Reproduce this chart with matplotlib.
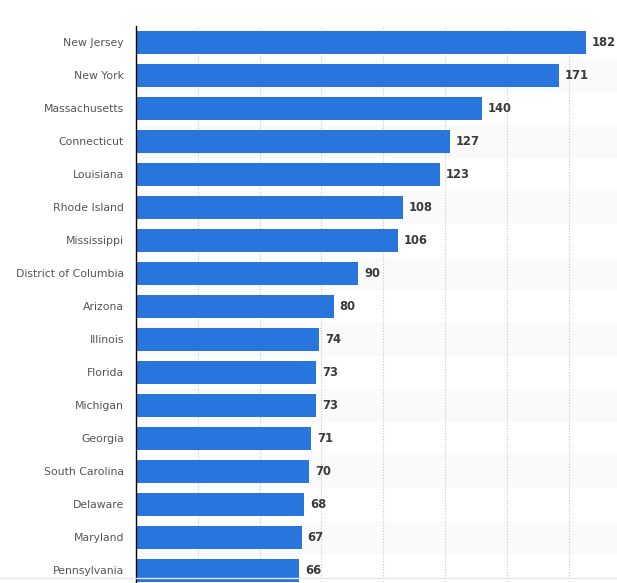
import matplotlib.pyplot as plt
from matplotlib.lines import Line2D

states = ['New Jersey', 'New York', 'Massachusetts', 'Connecticut', 'Louisiana',
          'Rhode Island', 'Mississippi', 'District of Columbia', 'Arizona', 'Illinois',
          'Florida', 'Michigan', 'Georgia', 'South Carolina', 'Delaware',
          'Maryland', 'Pennsylvania']
values = [182, 171, 140, 127, 123, 108, 106, 90, 80, 74, 73, 73, 71, 70, 68, 67, 66]

bar_color = '#2876dd'

fig = plt.figure(figsize=(6.17, 5.83), dpi=100)
# axes runs a little past the bottom edge, like the cropped screenshot
ax = fig.add_axes([136/617, 1 - 587/583, 481/617, 561/583])

n = len(states)
ypos = list(range(n))

# alternating row stripes
for i in ypos:
    if i % 2 == 1:
        ax.axhspan(i - 0.5, i + 0.5, color='#fafafa', zorder=0, lw=0)

ax.barh(ypos, values, height=0.67, color=bar_color, zorder=3)

for y, v in zip(ypos, values):
    ax.text(v + 2.4, y, str(v), va='center', ha='left', fontsize=8.3,
            fontweight='bold', color='#3a3a3a', zorder=4)

ax.set_xlim(0, 194.6)
ax.set_ylim(n - 0.5, -0.5)
ax.set_yticks(ypos)
ax.set_yticklabels(states, fontsize=7.8, color='#555555')
ax.tick_params(axis='y', length=0, pad=8.6)
ax.set_xticks([25, 50, 75, 100, 125, 150, 175])
ax.tick_params(axis='x', length=0, labelbottom=False)
ax.grid(axis='x', color='#c8c8c8', linestyle=(0, (1, 1.5)), lw=0.8, zorder=1)
ax.grid(axis='y', visible=False)

for side in ['top', 'right', 'bottom']:
    ax.spines[side].set_visible(False)
ax.spines['left'].set_color('#000000')
ax.spines['left'].set_linewidth(1)
ax.spines['left'].set_zorder(5)

# faint line near the bottom edge
fig.add_artist(Line2D([0, 1], [1 - 578/583, 1 - 578/583], transform=fig.transFigure,
                      color='#e6e6e6', lw=1))

fig.savefig('out.png', dpi=100)
